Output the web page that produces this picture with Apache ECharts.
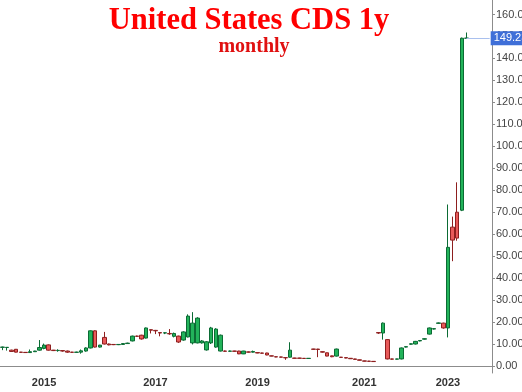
<!DOCTYPE html>
<html>
<head>
<meta charset="utf-8">
<script src="https://cdn.jsdelivr.net/npm/echarts@6/dist/echarts.min.js"></script>
<style>html,body{margin:0;padding:0;background:#fff}#c{width:522px;height:392px}</style>
</head>
<body>
<div id="c"></div>
<script>
// Month categories (some months have no quote in the source and are absent)
const dates = [
 '2014-04','2014-05','2014-06','2014-07','2014-08','2014-09','2014-10','2014-11','2014-12',
 '2015-01','2015-02','2015-03','2015-04','2015-05','2015-06','2015-07','2015-08','2015-09','2015-10','2015-11','2015-12',
 '2016-01','2016-02','2016-03','2016-04','2016-05','2016-06','2016-07','2016-08','2016-09','2016-10','2016-11','2016-12',
 '2017-01','2017-02','2017-03','2017-04','2017-05','2017-06','2017-07','2017-08','2017-10','2017-11','2017-12',
 '2018-01','2018-02','2018-03','2018-04','2018-05','2018-07','2018-08','2018-09','2018-10','2018-11','2018-12',
 '2019-01','2019-02','2019-03','2019-04','2019-05','2019-06','2019-07','2019-08','2019-09','2019-10','2019-11','2019-12',
 '2020-01','2020-02','2020-03','2020-05','2020-06','2020-07','2020-08','2020-09','2020-10','2020-11','2020-12',
 '2021-01','2021-02','2021-03','2021-07','2021-08','2021-09','2021-10','2021-11','2021-12',
 '2022-01','2022-02','2022-03','2022-05','2022-06','2022-08','2022-09','2022-11','2022-12',
 '2023-01','2023-02','2023-03','2023-04','2023-05',
 '2023-06','2023-07','2023-08','2023-09','2023-10'
];
// [open, close, low, high]
const candles = [
 [8.5,8.6,7.2,8.8],[8.4,8.5,7.0,8.6],[7.2,6.6,6.5,7.4],[7.6,6.3,6.2,7.7],[6.3,6.2,6.1,6.4],
 [6.2,6.1,6.0,6.3],[6.1,6.5,6.0,7.5],[6.5,6.8,6.4,6.9],[7.2,8.4,7.0,11.8],[8.0,9.5,7.6,10.2],
 [9.6,7.2,7.0,9.8],[7.2,7.0,6.8,7.3],[7.0,7.1,6.5,7.6],[7.0,6.8,6.5,7.1],[6.8,6.3,6.0,7.0],
 [6.3,6.2,6.0,6.4],[6.2,6.3,6.0,6.5],[6.3,6.9,5.6,7.5],[6.8,8.2,6.5,8.5],[8.2,16.0,8.0,16.2],
 [16.0,8.6,8.4,16.2],[8.6,9.5,8.4,9.6],[13.0,10.0,9.8,15.5],[10.0,9.6,9.4,10.2],[9.8,9.7,9.5,9.9],
 [9.7,9.8,9.5,10.0],[9.8,10.2,9.7,10.4],[10.2,10.4,10.0,10.6],[11.4,13.6,11.2,13.8],[13.6,13.5,13.2,13.8],
 [14.0,12.3,12.0,14.2],[12.7,17.3,12.5,17.5],[16.5,16.3,14.8,16.6],[16.2,16.0,14.5,16.4],[15.2,15.0,13.5,15.4],
 [15.0,15.1,14.5,15.4],[14.8,14.6,14.2,16.8],[13.5,14.8,13.0,15.2],[13.6,10.9,10.5,13.8],[11.8,15.5,11.5,15.8],
 [13.2,22.7,13.0,23.5],[10.5,19.5,9.8,24.5],[10.5,21.8,10.3,22.2],[10.5,11.4,10.2,11.8],[7.3,11.0,7.0,11.3],
 [10.5,17.3,10.0,17.8],[8.6,16.8,8.3,17.2],[6.8,14.0,6.6,14.3],[6.8,6.7,6.5,7.0],[6.7,6.8,6.5,7.0],
 [6.8,6.7,6.5,6.9],[6.8,5.5,5.4,6.9],[5.5,6.8,5.4,6.9],[6.4,6.3,6.1,6.6],[6.3,6.6,6.1,7.0],
 [6.1,5.9,5.8,6.2],[5.9,5.8,5.6,6.0],[5.9,5.0,4.9,6.0],[4.6,4.5,4.4,4.7],[4.2,4.1,4.0,4.3],
 [4.1,4.0,3.9,4.2],[3.8,3.7,2.8,3.9],[4.0,7.2,3.8,10.8],[3.6,3.5,3.4,3.7],[3.6,3.5,3.4,3.7],
 [3.5,3.4,3.3,3.6],[3.4,3.5,3.3,3.6],[7.7,7.6,7.4,7.8],[7.7,7.5,4.0,7.8],[6.5,6.3,6.1,6.6],
 [6.0,4.5,4.4,6.1],[4.6,4.2,4.0,4.7],[4.5,7.7,4.3,7.9],[4.0,3.9,3.7,4.1],[3.8,3.6,3.5,3.9],
 [3.5,3.3,3.2,3.6],[3.2,3.0,2.9,3.3],[2.8,2.6,2.5,2.9],[2.3,2.2,2.1,2.4],[2.2,2.1,2.0,2.3],
 [2.1,2.0,1.9,2.2],[15.2,15.0,14.6,15.4],[15.0,19.5,12.0,19.8],[12.0,3.2,3.0,12.2],[3.2,3.1,2.9,3.3],
 [3.1,3.2,3.0,3.3],[3.2,8.2,3.0,8.4],[8.6,8.8,8.4,9.0],[9.9,10.1,9.7,10.3],[10.0,11.2,9.8,11.4],
 [11.4,11.6,11.2,11.8],[12.2,12.4,12.0,12.6],[14.5,17.3,14.3,17.5],[16.8,17.0,16.6,17.2],[19.4,19.6,19.2,19.8],
 [19.5,17.3,17.0,19.7],[17.3,54.0,13.0,73.5],[63.2,57.3,47.7,68.0],[70.0,58.2,57.0,83.6],[70.9,149.2,70.5,149.5],
 [149.2,149.23,149.0,151.8]
];
const yTicks = [0,10,20,30,40,50,60,70,80,90,100,110,120,130,140,150,160];
const titleText = 'United States CDS 1y';
const subText = 'monthly';

const lastIdx = candles.length - 1;
const lastClose = candles[lastIdx][1];
const yearTick = (i, v) => typeof v === 'string' && v.endsWith('-01') && parseInt(v.slice(0,4)) % 2 === 1;

const chart = echarts.init(document.getElementById('c'), null, {renderer: 'canvas'});
chart.setOption({
  backgroundColor: '#fff',
  animation: false,
  title: [
    {text: titleText, left: 244, top: 1, textAlign: 'center',
     textStyle: {fontFamily: 'Liberation Serif', fontWeight: 'bold', fontSize: 30.5, color: '#ff0000'}},
    {text: subText, left: 249, top: 32, textAlign: 'center',
     textStyle: {fontFamily: 'Liberation Serif', fontWeight: 'bold', fontSize: 20, color: '#e01010'}}
  ],
  grid: {left: 0, right: 30, top: 0, bottom: 19, containLabel: false, outerBoundsMode: 'none'},
  xAxis: {
    type: 'category', data: dates, boundaryGap: true,
    axisLine: {lineStyle: {color: '#8c8c8c', width: 1}},
    axisTick: {alignWithLabel: true, interval: yearTick, length: 4, lineStyle: {color: '#8c8c8c'}},
    axisLabel: {interval: yearTick, formatter: v => v.slice(0,4), color: '#333', fontWeight: 'bold',
      fontFamily: 'Liberation Sans', fontSize: 11, margin: 4},
    splitLine: {show: false}
  },
  yAxis: {
    type: 'value', position: 'right', min: -3.2, max: 166.6,
    axisLine: {show: true, lineStyle: {color: '#8c8c8c'}},
    axisTick: {show: true, customValues: yTicks, length: 3, lineStyle: {color: '#8c8c8c'}},
    axisLabel: {customValues: yTicks, formatter: v => v.toFixed(2), color: '#444',
      fontFamily: 'Liberation Sans', fontSize: 11, margin: 4},
    splitLine: {show: false}
  },
  series: [{
    type: 'candlestick',
    data: candles,
    barWidth: 4,
    itemStyle: {
      color: '#22b35a', color0: '#e85a5a',
      borderColor: '#0b6b34', borderColor0: '#8e1f1f', borderWidth: 1
    },
    markLine: {
      symbol: 'none', silent: true,
      lineStyle: {color: '#a9c0ee', width: 1, type: 'solid'},
      label: {show: true, position: 'end', distance: 1, formatter: () => lastClose.toFixed(2),
        color: '#fff', backgroundColor: '#3f6fd8', padding: [2, 3, 1, 3],
        fontFamily: 'Liberation Sans', fontSize: 11},
      data: [[{coord: [dates[lastIdx], lastClose]}, {coord: [dates[dates.length - 1], lastClose]}]]
    }
  }]
});
</script>
</body>
</html>
